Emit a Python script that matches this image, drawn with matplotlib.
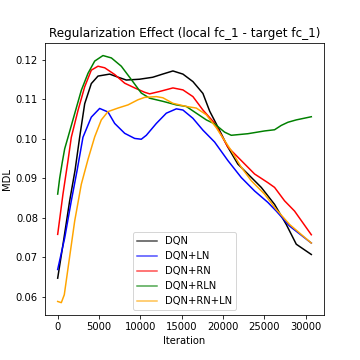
import numpy as np
import matplotlib

matplotlib.use("Agg")
import matplotlib.pyplot as plt

# values
dqn_x = [0, 640, 1450, 2100, 2660, 3270, 4070, 4880, 6290, 7200, 8300, 9900,
         11500, 12700, 13950, 15160, 16370, 17580, 18400, 19390, 20600, 21810,
         23020, 24640, 26250, 27670, 28880, 30700]
dqn_y = [0.0647, 0.0732, 0.0843, 0.092, 0.1004, 0.1089, 0.114, 0.1159, 0.1164,
         0.1157, 0.1149, 0.1151, 0.1156, 0.1164, 0.1172, 0.1164, 0.1145, 0.1115,
         0.107, 0.103, 0.0979, 0.0936, 0.0911, 0.0877, 0.0834, 0.0783, 0.0733,
         0.0707]

ln_x = [0, 850, 1650, 2350, 3060, 4070, 5080, 6090, 6900, 8110, 9320, 10120,
        10730, 11940, 13150, 14360, 15160, 16370, 17580, 18990, 20600, 22220,
        23830, 25440, 26460, 28070, 30700]
ln_y = [0.0669, 0.0749, 0.0843, 0.092, 0.1004, 0.1055, 0.1077, 0.1068, 0.1039,
        0.1014, 0.1001, 0.0999, 0.1009, 0.1039, 0.1065, 0.1076, 0.1073, 0.1052,
        0.1022, 0.0992, 0.0945, 0.0902, 0.0868, 0.0839, 0.0817, 0.0779, 0.0736]

rn_x = [0, 640, 1250, 1650, 2460, 3270, 4070, 4880, 5690, 6900, 8110, 9320,
        10520, 11130, 12340, 13950, 15160, 16370, 17580, 18990, 20600, 22220,
        23830, 25440, 26250, 27460, 28670, 30700]
rn_y = [0.0758, 0.086, 0.0945, 0.1004, 0.1072, 0.1132, 0.1174, 0.1184, 0.118,
        0.1163, 0.1141, 0.1129, 0.1118, 0.1114, 0.112, 0.1129, 0.1124, 0.1107,
        0.1073, 0.104, 0.0979, 0.0945, 0.0911, 0.0889, 0.0877, 0.0843, 0.0817,
        0.0757]

rln_x = [0, 240, 550, 850, 1250, 2060, 2860, 3670, 4480, 5480, 6500, 7700,
         8920, 10120, 11130, 12740, 14360, 15570, 16780, 17990, 18990, 20200,
         21010, 23020, 25040, 26250, 27060, 27870, 28880, 30700]
rln_y = [0.086, 0.090, 0.094, 0.0975, 0.1004, 0.1064, 0.1123, 0.1166, 0.1197,
         0.1211, 0.1205, 0.1184, 0.115, 0.1116, 0.1103, 0.1095, 0.1086, 0.1082,
         0.1065, 0.1048, 0.1038, 0.1017, 0.1009, 0.1013, 0.102, 0.1023, 0.1034,
         0.1042, 0.1048, 0.1056]

rnln_x = [0, 440, 800, 1250, 2060, 2860, 3670, 4480, 5280, 6090, 7300, 8510,
          9720, 10520, 11940, 12740, 13950, 15570, 16780, 17990, 19200, 21010,
          22220, 23430, 25040, 26460, 28070, 30700]
rnln_y = [0.0588, 0.0585, 0.0605, 0.0672, 0.0792, 0.0885, 0.0948, 0.1005,
          0.1048, 0.1069, 0.1078, 0.1086, 0.1099, 0.1105, 0.1107, 0.1104,
          0.109, 0.1082, 0.1078, 0.1061, 0.1028, 0.097, 0.0928, 0.0894, 0.086,
          0.0821, 0.0783, 0.0736]

labels = ["DQN", "DQN+LN", "DQN+RN", "DQN+RLN", "DQN+RN+LN"]
colors = ["black", "blue", "red", "green", "orange"]

fig, ax = plt.subplots(figsize=(5, 5), dpi=72)
fig.subplots_adjust(left=0.125, right=0.9, top=0.88, bottom=0.125)

series = [(dqn_x, dqn_y), (ln_x, ln_y), (rn_x, rn_y), (rln_x, rln_y),
          (rnln_x, rnln_y)]
for (xs, ys), lab, col in zip(series, labels, colors):
    ax.plot(xs, ys, color=col, label=lab, linewidth=1.5)

ax.set_title("Regularization Effect (local fc_1 - target fc_1)")
ax.set_xlabel("Iteration")
ax.set_ylabel("MDL")
leg = ax.legend(loc="lower center")
for h in leg.get_lines():
    h.set_alpha(0.7)

fig.savefig("out.png", dpi=72)
